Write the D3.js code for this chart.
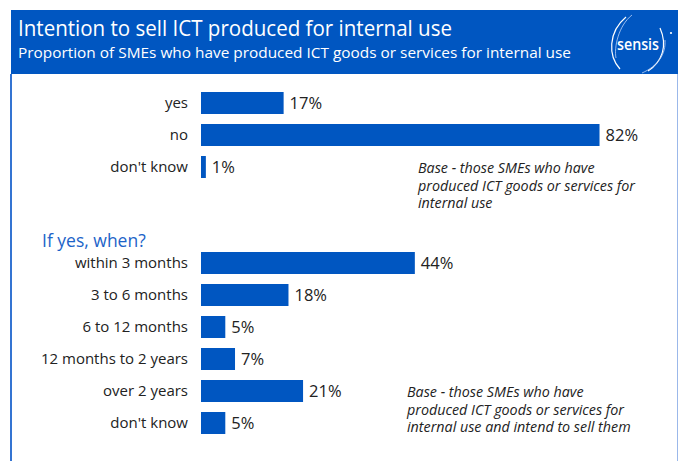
<!DOCTYPE html>
<html>
<head>
<meta charset="utf-8">
<script src="https://cdn.jsdelivr.net/npm/d3@7"></script>
<style>
  body { margin: 0; background: #fff; }
  svg { display: block; }
</style>
</head>
<body>
<div id="chart"></div>
<script>
// data
var ownCategories = ["yes", "no", "don't know"];
var ownValues = [17, 82, 1];

var whenCategories = ["within 3 months", "3 to 6 months", "6 to 12 months",
  "12 months to 2 years", "over 2 years", "don't know"];
var whenValues = [44, 18, 5, 7, 21, 5];

var titleText = "Intention to sell ICT produced for internal use";
var subtitleText = "Proportion of SMEs who have produced ICT goods or services for internal use";
var sectionText = "If yes, when?";
var note1 = ["Base - those SMEs who have", "produced ICT goods or services for", "internal use"];
var note2 = ["Base - those SMEs who have", "produced ICT goods or services for", "internal use and intend to sell them"];

var svgWidth = 683;
var svgHeight = 461;
var blue = "#0056c1";
var font = "'Open Sans', 'Noto Sans', sans-serif";

var svg = d3.select("#chart")
  .append("svg")
  .attr("width", svgWidth)
  .attr("height", svgHeight);

// frame
svg.append("rect")
  .attr("x", 11).attr("y", 10)
  .attr("width", 667).attr("height", 64)
  .attr("fill", blue);

svg.append("line")
  .attr("x1", 11).attr("x2", 11)
  .attr("y1", 74).attr("y2", svgHeight)
  .attr("stroke", "#3474d2").attr("stroke-width", 2);

svg.append("line")
  .attr("x1", 677.5).attr("x2", 677.5)
  .attr("y1", 74).attr("y2", svgHeight)
  .attr("stroke", "#9bb8ea").attr("stroke-width", 1);

// header text
svg.append("text")
  .attr("x", 18).attr("y", 36)
  .attr("fill", "#fff")
  .attr("font-family", font)
  .attr("font-size", 21)
  .attr("textLength", 434)
  .attr("lengthAdjust", "spacingAndGlyphs")
  .text(titleText);

svg.append("text")
  .attr("x", 18).attr("y", 58)
  .attr("fill", "#fff")
  .attr("font-family", font)
  .attr("font-size", 15)
  .attr("textLength", 553)
  .attr("lengthAdjust", "spacingAndGlyphs")
  .text(subtitleText);

// logo
var logo = svg.append("g").attr("transform", "translate(638, 44)");
logo.append("path")
  .attr("d", "M-12,-27 C-30,-12 -30,12 -18,25")
  .attr("fill", "none").attr("stroke", "#fff").attr("stroke-width", 1.2);
logo.append("path")
  .attr("d", "M-6,-29 C-20,-18 -24,4 -22,14")
  .attr("fill", "none").attr("stroke", "#bcd3f7").attr("stroke-width", 0.8);
logo.append("path")
  .attr("d", "M22,-16 C30,2 24,18 10,27")
  .attr("fill", "none").attr("stroke", "#fff").attr("stroke-width", 1.2);
logo.append("path")
  .attr("d", "M27,-4 C28,10 20,22 4,29")
  .attr("fill", "none").attr("stroke", "#bcd3f7").attr("stroke-width", 0.8);
logo.append("text")
  .attr("x", 0).attr("y", 6)
  .attr("text-anchor", "middle")
  .attr("fill", "#fff")
  .attr("font-family", "'Open Sans', sans-serif")
  .attr("font-weight", 600)
  .attr("font-size", 17)
  .attr("textLength", 42)
  .attr("lengthAdjust", "spacingAndGlyphs")
  .text("sensis");
logo.append("circle")
  .attr("cx", 33).attr("cy", -11).attr("r", 1.1)
  .attr("fill", "#fff");

// scales
var x = d3.scaleLinear().domain([0, 100]).range([201, 687]);

var yOwn = d3.scaleBand()
  .domain(ownCategories)
  .range([92, 178])
  .paddingInner(0.3125)
  .paddingOuter(0);

var yWhen = d3.scaleBand()
  .domain(whenCategories)
  .range([252, 434])
  .paddingInner(0.3125)
  .paddingOuter(0);

function drawGroup(categories, values, yScale) {
  var g = svg.append("g");
  var rows = g.selectAll("g.row")
    .data(categories.map((c, i) => ({ cat: c, val: values[i] })))
    .enter()
    .append("g")
    .attr("class", "row");

  rows.append("rect")
    .attr("x", x(0))
    .attr("y", (d) => yScale(d.cat))
    .attr("width", (d) => x(d.val) - x(0))
    .attr("height", yScale.bandwidth())
    .attr("fill", blue);

  rows.append("text")
    .attr("x", 188)
    .attr("y", (d) => yScale(d.cat) + yScale.bandwidth() / 2)
    .attr("dy", "0.35em")
    .attr("text-anchor", "end")
    .attr("fill", "#222")
    .attr("font-family", font)
    .attr("font-size", 15)
    .text((d) => d.cat);

  rows.append("text")
    .attr("x", (d) => x(d.val) + 6)
    .attr("y", (d) => yScale(d.cat) + yScale.bandwidth() / 2)
    .attr("dy", "0.35em")
    .attr("fill", "#222")
    .attr("font-family", font)
    .attr("font-size", 16.5)
    .text((d) => d.val + "%");
}

drawGroup(ownCategories, ownValues, yOwn);
drawGroup(whenCategories, whenValues, yWhen);

svg.append("text")
  .attr("x", 42).attr("y", 247)
  .attr("fill", "#1c63c8")
  .attr("font-family", font)
  .attr("font-size", 17.5)
  .text(sectionText);

function drawNote(lines, x0, y0) {
  svg.append("g")
    .selectAll("text")
    .data(lines)
    .enter()
    .append("text")
    .attr("x", x0)
    .attr("y", (d, i) => y0 + i * 17.5)
    .attr("fill", "#222")
    .attr("font-family", font)
    .attr("font-style", "italic")
    .attr("font-size", 14.3)
    .text((d) => d);
}

drawNote(note1, 418, 173);
drawNote(note2, 407, 397);
</script>
</body>
</html>
